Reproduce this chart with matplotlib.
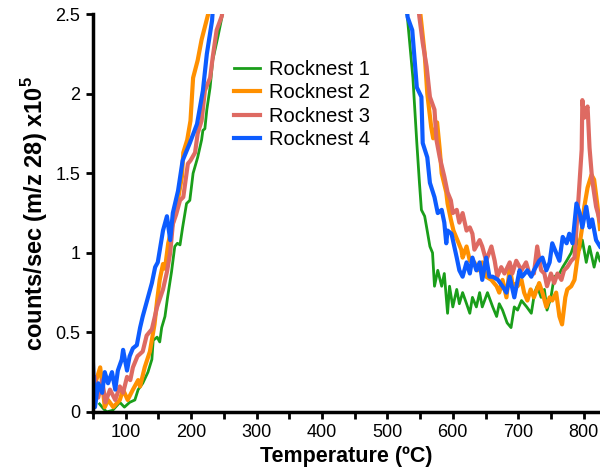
import numpy as np
import matplotlib
matplotlib.use("Agg")
import matplotlib.pyplot as plt

plt.rcParams['font.family'] = ['Liberation Sans', 'DejaVu Sans']
plt.rcParams['mathtext.fontset'] = 'custom'
plt.rcParams['mathtext.rm'] = 'Liberation Sans'
plt.rcParams['mathtext.bf'] = 'Liberation Sans:bold'

# Rocknest 1 (green)
t_rn1 = [60, 66, 71, 80, 91, 98, 106, 114, 119, 126, 134, 140, 142, 148, 152, 155, 160, 164,
         170, 175, 179, 183, 187, 193, 198, 203, 210, 216, 218, 221, 224, 229, 233, 241, 247, 252,
         np.nan,
         525, 531, 539, 545, 549, 552, 557, 560, 565, 569, 572, 577, 583, 587, 592, 595, 600,
         606, 610, 615, 621, 626, 630, 636, 641, 645, 653, 661, 667, 671, 676, 683, 689, 694,
         699, 705, 713, 720, 725, 729, 735, 740, 744, 750, 755, 763, 768, 774, 781, 789, 794,
         798, 804, 809, 816, 821, 825]
v_rn1 = [0.05, 0.02, 0.0, 0.01, 0.06, 0.03, 0.06, 0.075, 0.14, 0.18, 0.25, 0.33, 0.45, 0.47, 0.44,
         0.53, 0.6, 0.72, 0.88, 1.04, 1.06, 1.05, 1.16, 1.31, 1.33, 1.5, 1.6, 1.71, 1.77, 1.78,
         1.9, 2.04, 2.21, 2.36, 2.48, 2.7,
         np.nan,
         2.7, 2.46, 2.1, 1.69, 1.44, 1.27, 1.23, 1.16, 1.04, 1.0, 0.79, 0.89, 0.79, 0.87, 0.62,
         0.79, 0.66, 0.77, 0.68, 0.75, 0.68, 0.62, 0.72, 0.66, 0.75, 0.66, 0.75, 0.66, 0.60,
         0.68, 0.64, 0.56, 0.53, 0.66, 0.64, 0.70, 0.66, 0.62, 0.75, 0.79, 0.72, 0.77, 0.64,
         0.72, 0.85, 0.87, 0.91, 0.95, 1.0, 1.1, 1.02, 1.08, 0.94, 1.04, 0.91, 1.0, 0.95]

# Rocknest 2 (orange)
t_rn2 = [50, 55, 61, 64, 68, 73, 81, 91, 96, 103, 111, 119, 122, 129, 137, 144, 148, 152, 157,
         160, 165, 170, 178, 186, 188, 194, 199, 203, 210, 216, 221, 226, 230,
         np.nan,
         545, 551, 557, 561, 567, 570, 576, 580, 583, 590, 592, 597, 601, 605, 613, 615, 621,
         626, 633, 638, 645, 651, 659, 667, 671, 676, 682, 687, 691, 699, 705, 709, 714, 719,
         724, 732, 737, 743, 748, 752, 758, 763, 767, 772, 775, 781, 786, 790, 797, 801, 806,
         812, 816, 821, 825]
v_rn2 = [0.12, 0.2, 0.28, 0.18, 0.03, 0.075, 0.03, 0.075, 0.14, 0.075, 0.14, 0.2, 0.16, 0.28,
         0.38, 0.55, 0.7, 0.83, 0.93, 0.9, 1.06, 1.15, 1.29, 1.48, 1.63, 1.71, 1.83, 2.1, 2.21,
         2.34, 2.42, 2.5, 2.7,
         np.nan,
         2.7, 2.48, 2.25, 2.0, 1.79, 1.72, 1.82, 1.65, 1.5, 1.38, 1.31, 1.21, 1.14, 1.1, 1.02,
         0.97, 1.04, 0.95, 0.94, 0.89, 0.94, 0.85, 0.83, 0.79, 0.75, 0.83, 0.72, 0.91, 0.81,
         0.79, 0.83, 0.75, 0.70, 0.77, 0.72, 0.81, 0.75, 0.66, 0.72, 0.70, 0.75, 0.60, 0.55,
         0.72, 0.77, 0.79, 0.83, 0.95, 1.14, 1.29, 1.41, 1.49, 1.46, 1.3, 1.15]

# Rocknest 3 (red)
t_rn3 = [50, 53, 58, 64, 69, 76, 84, 91, 96, 102, 107, 111, 118, 126, 132, 140, 148, 157, 163,
         168, 172, 177, 183, 188, 195, 199, 206, 210, 216, 221, 229, 233, 239, 247, 252,
         np.nan,
         543, 549, 554, 560, 565, 572, 575, 580, 587, 592, 597, 600, 606, 610, 615, 621, 626,
         630, 633, 641, 645, 651, 659, 664, 668, 674, 679, 687, 691, 697, 705, 712, 717, 724,
         729, 735, 740, 744, 750, 755, 760, 766, 770, 775, 781, 786, 790, 794, 797, 798, 801,
         804, 806, 809, 813, 819, 825]
v_rn3 = [0.15, 0.22, 0.09, 0.2, 0.06, 0.14, 0.075, 0.16, 0.12, 0.22, 0.2, 0.28, 0.35, 0.38,
         0.48, 0.52, 0.66, 0.77, 0.88, 1.0, 1.18, 1.24, 1.33, 1.35, 1.56, 1.58, 1.63, 1.75, 1.83,
         2.02, 2.1, 2.23, 2.4, 2.49, 2.7,
         np.nan,
         2.7, 2.48, 2.32, 2.17, 1.98, 1.9, 1.71, 1.6, 1.48, 1.38, 1.33, 1.25, 1.27, 1.19, 1.25,
         1.14, 1.16, 1.12, 1.02, 1.08, 1.04, 0.95, 1.04, 0.95, 0.85, 0.91, 0.87, 0.94, 0.87,
         0.95, 0.89, 0.94, 0.87, 0.87, 1.04, 0.89, 0.87, 0.79, 0.87, 0.81, 0.87, 0.83, 0.89,
         0.91, 0.95, 0.97, 1.21, 1.46, 1.65, 1.96, 1.85, 1.9, 1.92, 1.66, 1.46, 1.29, 1.2]

# Rocknest 4 (blue)
t_rn4 = [50, 53, 58, 64, 68, 73, 79, 84, 88, 94, 96, 102, 106, 111, 117, 122, 126, 134, 140,
         145, 149, 157, 163, 168, 172, 180, 187, 198, 209, 218, 224, 232, 236,
         np.nan,
         525, 531, 538, 545, 552, 554, 561, 565, 572, 575, 577, 583, 587, 590, 592, 598, 606,
         610, 615, 621, 626, 630, 636, 641, 645, 651, 656, 661, 669, 676, 682, 687, 694, 702,
         706, 714, 720, 724, 732, 737, 743, 748, 752, 758, 763, 768, 774, 778, 783, 789, 794,
         798, 804, 809, 813, 819, 825]
v_rn4 = [0.3, 0.03, 0.18, 0.12, 0.25, 0.18, 0.25, 0.14, 0.26, 0.33, 0.39, 0.26, 0.35, 0.4,
         0.42, 0.53, 0.6, 0.72, 0.81, 0.91, 0.94, 1.14, 1.23, 1.08, 1.25, 1.39, 1.58, 1.69, 1.81,
         2.02, 2.25, 2.46, 2.7,
         np.nan,
         2.7, 2.48, 2.4, 2.04, 1.98, 1.69, 1.6, 1.44, 1.35, 1.29, 1.25, 1.27, 1.19, 1.06, 1.14,
         1.12, 0.97, 0.89, 0.85, 0.94, 0.87, 0.97, 0.89, 0.94, 0.83, 0.97, 0.85, 0.85, 0.83,
         0.79, 0.75, 0.85, 0.72, 0.89, 0.85, 0.89, 0.85, 0.89, 0.95, 0.97, 0.89, 0.94, 1.06,
         1.0, 0.95, 1.1, 1.06, 1.12, 1.06, 1.31, 1.25, 1.16, 1.29, 1.16, 1.21, 1.08, 1.04]

labels = ['Rocknest 1', 'Rocknest 2', 'Rocknest 3', 'Rocknest 4']
colors = ['#1a9e1a', '#ff9000', '#de6a62', '#0d5cff']
widths = [2.0, 3.0, 3.0, 3.0]

x_ticks = list(range(50, 826, 50))
x_tick_labels = [str(t) if t % 100 == 0 else '' for t in x_ticks]
y_ticks = [0, 0.5, 1, 1.5, 2, 2.5]
y_tick_labels = ['0', '0.5', '1', '1.5', '2', '2.5']

fig = plt.figure(figsize=(6.0, 4.74), dpi=100)
ax = fig.add_axes([0.155, 0.131, 0.845, 0.839])

series = [(t_rn1, v_rn1), (t_rn2, v_rn2), (t_rn3, v_rn3), (t_rn4, v_rn4)]
for (t, v), lab, c, w in zip(series, labels, colors, widths):
    ax.plot(t, v, color=c, lw=w, label=lab, solid_joinstyle='round')

ax.set_xlim(50, 825)
ax.set_ylim(0, 2.5)
ax.set_xticks(x_ticks)
ax.set_xticklabels(x_tick_labels)
ax.set_yticks(y_ticks)
ax.set_yticklabels(y_tick_labels)
ax.tick_params(direction='out', length=5, width=2, labelsize=13, pad=4)

for s in ['top', 'right']:
    ax.spines[s].set_visible(False)
for s in ['left', 'bottom']:
    ax.spines[s].set_linewidth(2.5)

ax.set_xlabel('Temperature (ºC)', fontsize=15.5, fontweight='bold', labelpad=3)
ax.set_ylabel(r'counts/sec (m/z 28) x10$^\mathbf{5}$', fontsize=17, fontweight='bold', labelpad=4)

ax.legend(loc='upper left', bbox_to_anchor=(0.278, 0.885), frameon=False, fontsize=14.5,
          handlelength=1.3, handletextpad=0.45, labelspacing=0.22, borderpad=0, borderaxespad=0)

fig.savefig('out.png', dpi=100)
